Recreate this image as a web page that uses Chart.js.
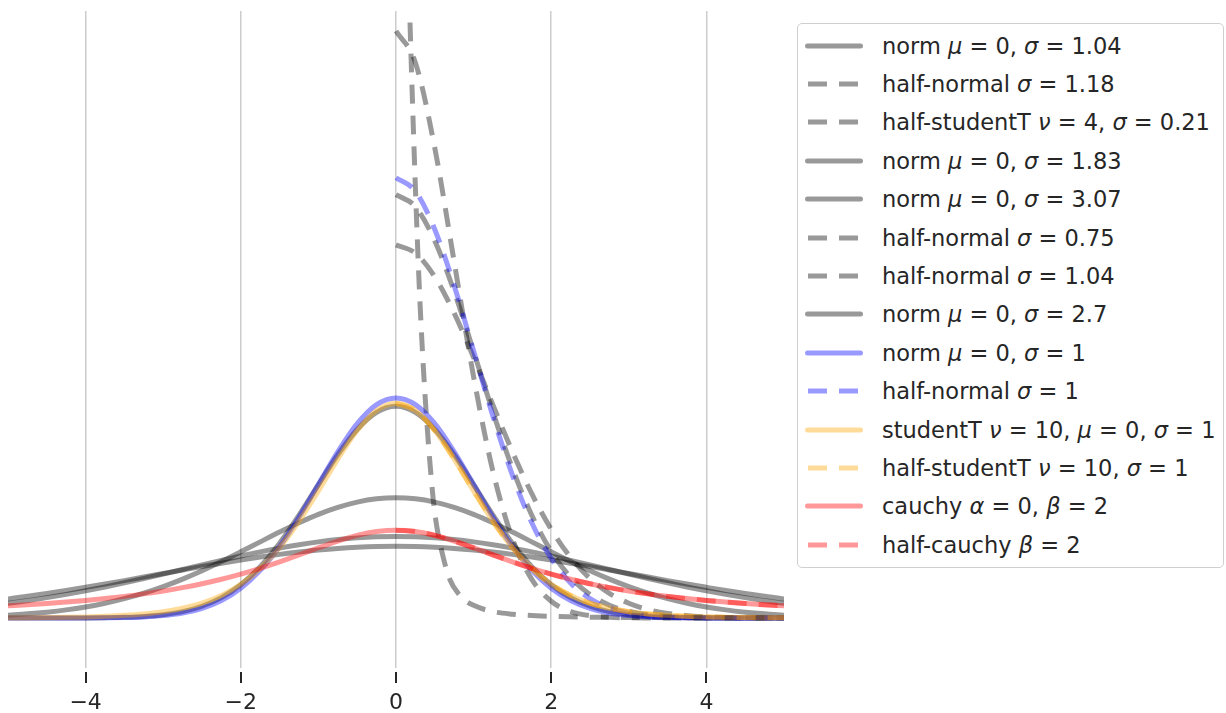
<!DOCTYPE html>
<html>
<head>
<meta charset="utf-8">
<script src="https://cdn.jsdelivr.net/npm/chart.js@4/dist/chart.umd.min.js"></script>
<style>
    html, body { margin: 0; padding: 0; background: #fff; }
    #wrap { position: relative; width: 1226px; height: 713px; }
    #legend {
        position: absolute; left: 797px; top: 23px; width: 427px; height: 545px;
        box-sizing: border-box; border: 1px solid #cfcfcf; border-radius: 5px; background: #fff;
        font-family: 'DejaVu Sans', sans-serif; font-size: 22.5px; color: #262626;
    }
    .row { position: absolute; left: 0; height: 30px; line-height: 30px; white-space: nowrap; }
    .row svg { position: absolute; left: 7px; top: 10px; }
    .row span { position: absolute; left: 84px; top: 0; }
    .row i { font-family: 'DejaVu Sans', sans-serif; font-style: italic; }
</style>
</head>
<body>
<div id="wrap">
    <canvas id="pdfChart" width="1226" height="713"></canvas>
    <div id="legend"></div>
</div>
<script>
const xs = [-5, -4.75, -4.5, -4.25, -4, -3.75, -3.5, -3.25, -3, -2.75, -2.5, -2.25, -2, -1.75, -1.5, -1.25, -1, -0.75, -0.5, -0.25,
    0, 0.25, 0.5, 0.75, 1, 1.25, 1.5, 1.75, 2, 2.25, 2.5, 2.75, 3, 3.25, 3.5, 3.75, 4, 4.25, 4.5, 4.75, 5]
const halfXs = [0, 0.25, 0.5, 0.75, 1, 1.25, 1.5, 1.75, 2, 2.25, 2.5, 2.75, 3, 3.25, 3.5, 3.75, 4, 4.25, 4.5, 4.75, 5]
const tXs = [0, 0.05, 0.1, 0.15, 0.2, 0.25, 0.3, 0.35, 0.4, 0.45, 0.5, 0.6, 0.7, 0.8, 0.9, 1, 1.2, 1.5, 2, 3, 4, 5]
const tickValues = [-4, -2, 0, 2, 4]

const normSd104 = [0, 0, 0, 0.0001, 0.0002, 0.0006, 0.0013, 0.0029, 0.006, 0.0116, 0.0213, 0.0369, 0.0604, 0.0931, 0.1356, 0.1863, 0.2416, 0.2958, 0.3417, 0.3727,
    0.3836, 0.3727, 0.3417, 0.2958, 0.2416, 0.1863, 0.1356, 0.0931, 0.0604, 0.0369, 0.0213, 0.0116, 0.006, 0.0029, 0.0013, 0.0006, 0.0002, 0.0001, 0, 0, 0]
const halfNormSd118 = [0.6762, 0.6612, 0.6181, 0.5525, 0.4722, 0.3858, 0.3014, 0.2252, 0.1608, 0.1098, 0.0717, 0.0447, 0.0267, 0.0152, 0.0083, 0.0043, 0.0022, 0.001, 0.0005, 0.0002, 0.0001]
const halfStudentT4 = [1.64, 1.6, 1.43, 1.22, 0.99, 0.78, 0.6, 0.46, 0.35, 0.26, 0.19, 0.115, 0.068, 0.045, 0.031, 0.023, 0.013, 0.007, 0.003, 0.001, 0.0004, 0.0002]
const normSd183 = [0.0052, 0.0075, 0.0106, 0.0147, 0.02, 0.0267, 0.035, 0.045, 0.0569, 0.0705, 0.0857, 0.1024, 0.12, 0.138, 0.1558, 0.1726, 0.1878, 0.2004, 0.21, 0.216,
    0.218, 0.216, 0.21, 0.2004, 0.1878, 0.1726, 0.1558, 0.138, 0.12, 0.1024, 0.0857, 0.0705, 0.0569, 0.045, 0.035, 0.0267, 0.02, 0.0147, 0.0106, 0.0075, 0.0052]
const normSd307 = [0.0345, 0.0393, 0.0444, 0.0498, 0.0556, 0.0616, 0.0678, 0.0742, 0.0806, 0.087, 0.0933, 0.0993, 0.1051, 0.1105, 0.1153, 0.1196, 0.1232, 0.1261, 0.1282, 0.1295,
    0.13, 0.1295, 0.1282, 0.1261, 0.1232, 0.1196, 0.1153, 0.1105, 0.1051, 0.0993, 0.0933, 0.087, 0.0806, 0.0742, 0.0678, 0.0616, 0.0556, 0.0498, 0.0444, 0.0393, 0.0345]
const halfNormSd075 = [1.0638, 1.0063, 0.8518, 0.6452, 0.4373, 0.2653, 0.144, 0.0699, 0.0304, 0.0118, 0.0041, 0.0013, 0.0004, 0.0001, 0, 0, 0, 0, 0, 0, 0]
const halfNormSd104 = [0.7672, 0.7454, 0.6834, 0.5916, 0.4832, 0.3726, 0.2712, 0.1862, 0.1208, 0.0738, 0.0426, 0.0232, 0.012, 0.0058, 0.0027, 0.0012, 0.0005, 0.0002, 0.0001, 0, 0]
const normSd27 = [0.0266, 0.0314, 0.0369, 0.0428, 0.0493, 0.0563, 0.0638, 0.0716, 0.0797, 0.088, 0.0963, 0.1044, 0.1123, 0.1198, 0.1266, 0.1327, 0.138, 0.1422, 0.1452, 0.1471,
    0.1478, 0.1471, 0.1452, 0.1422, 0.138, 0.1327, 0.1266, 0.1198, 0.1123, 0.1044, 0.0963, 0.088, 0.0797, 0.0716, 0.0638, 0.0563, 0.0493, 0.0428, 0.0369, 0.0314, 0.0266]
const normSd1 = [0, 0, 0, 0, 0.0001, 0.0004, 0.0009, 0.002, 0.0044, 0.0091, 0.0175, 0.0317, 0.054, 0.0863, 0.1295, 0.1826, 0.242, 0.3011, 0.3521, 0.3867,
    0.3989, 0.3867, 0.3521, 0.3011, 0.242, 0.1826, 0.1295, 0.0863, 0.054, 0.0317, 0.0175, 0.0091, 0.0044, 0.002, 0.0009, 0.0004, 0.0001, 0, 0, 0, 0]
const halfNormSd1 = [0.7979, 0.7734, 0.7041, 0.6022, 0.4839, 0.3653, 0.259, 0.1726, 0.108, 0.0635, 0.035, 0.0182, 0.0089, 0.0041, 0.0017, 0.0007, 0.0003, 0.0001, 0, 0, 0]
const studentT10 = [0.0004, 0.0006, 0.0009, 0.0013, 0.002, 0.0031, 0.0048, 0.0074, 0.0114, 0.0176, 0.0269, 0.0409, 0.0611, 0.0895, 0.1274, 0.1751, 0.2304, 0.288, 0.3397, 0.376,
    0.3891, 0.376, 0.3397, 0.288, 0.2304, 0.1751, 0.1274, 0.0895, 0.0611, 0.0409, 0.0269, 0.0176, 0.0114, 0.0074, 0.0048, 0.0031, 0.002, 0.0013, 0.0009, 0.0006, 0.0004]
const halfStudentT10 = [0.3891, 0.376, 0.3397, 0.288, 0.2304, 0.1751, 0.1274, 0.0895, 0.0611, 0.0409, 0.0269, 0.0176, 0.0114, 0.0074, 0.0048, 0.0031, 0.002, 0.0013, 0.0009, 0.0006, 0.0004]
const cauchy2 = [0.022, 0.024, 0.0263, 0.0289, 0.0318, 0.0352, 0.0392, 0.0437, 0.049, 0.0551, 0.0621, 0.0702, 0.0796, 0.0901, 0.1019, 0.1144, 0.1273, 0.1395, 0.1498, 0.1567,
    0.1592, 0.1567, 0.1498, 0.1395, 0.1273, 0.1144, 0.1019, 0.0901, 0.0796, 0.0702, 0.0621, 0.0551, 0.049, 0.0437, 0.0392, 0.0352, 0.0318, 0.0289, 0.0263, 0.024, 0.022]
const halfCauchy2 = [0.1592, 0.1567, 0.1498, 0.1395, 0.1273, 0.1144, 0.1019, 0.0901, 0.0796, 0.0702, 0.0621, 0.0551, 0.049, 0.0437, 0.0392, 0.0352, 0.0318, 0.0289, 0.0263, 0.024, 0.022]

const gray = 'rgba(0, 0, 0, 0.4)'
const blue = 'rgba(0, 0, 255, 0.4)'
const orange = 'rgba(255, 165, 0, 0.4)'
const red = 'rgba(255, 0, 0, 0.4)'
const dash = [19, 12]

// label, x values, y values, colour, dashed?
const series = [
    ['norm μ = 0, σ = 1.04', xs, normSd104, gray, false],
    ['half-normal σ = 1.18', halfXs, halfNormSd118, gray, true],
    ['half-studentT ν = 4, σ = 0.21', tXs, halfStudentT4, gray, true],
    ['norm μ = 0, σ = 1.83', xs, normSd183, gray, false],
    ['norm μ = 0, σ = 3.07', xs, normSd307, gray, false],
    ['half-normal σ = 0.75', halfXs, halfNormSd075, gray, true],
    ['half-normal σ = 1.04', halfXs, halfNormSd104, gray, true],
    ['norm μ = 0, σ = 2.7', xs, normSd27, gray, false],
    ['norm μ = 0, σ = 1', xs, normSd1, blue, false],
    ['half-normal σ = 1', halfXs, halfNormSd1, blue, true],
    ['studentT ν = 10, μ = 0, σ = 1', xs, studentT10, orange, false],
    ['half-studentT ν = 10, σ = 1', halfXs, halfStudentT10, orange, true],
    ['cauchy α = 0, β = 2', xs, cauchy2, red, false],
    ['half-cauchy β = 2', halfXs, halfCauchy2, red, true],
]

const datasets = series.map(([label, x, y, color, dashed], i) => ({
    label,
    data: x.map((v, j) => ({x: v, y: y[j]})),
    borderColor: color,
    borderWidth: 5,
    borderDash: dashed ? dash : [],
    borderCapStyle: dashed ? 'butt' : 'round',
    cubicInterpolationMode: 'monotone',
    pointRadius: 0,
    fill: false,
    order: series.length - i,
}))

// matplotlib style tick marks, a little below the plot area
const tickMarks = {
    id: 'tickMarks',
    afterDraw(chart) {
        const {ctx, chartArea, scales: {x}} = chart
        ctx.save()
        ctx.strokeStyle = '#262626'
        ctx.lineWidth = 2
        for (const t of x.ticks) {
            const px = Math.round(x.getPixelForValue(t.value))
            ctx.beginPath()
            ctx.moveTo(px, chartArea.bottom + 4)
            ctx.lineTo(px, chartArea.bottom + 15)
            ctx.stroke()
        }
        ctx.restore()
    }
}

const chart = new Chart(document.getElementById('pdfChart'), {
    type: 'line',
    data: {datasets},
    options: {
        responsive: false,
        animation: false,
        layout: {padding: {left: 8, right: 442, top: 11, bottom: 0}},
        plugins: {legend: {display: false}, tooltip: {enabled: false}},
        scales: {
            x: {
                type: 'linear',
                min: -5,
                max: 5,
                afterBuildTicks: scale => { scale.ticks = tickValues.map(value => ({value})) },
                afterFit: scale => { scale.height = 45 },
                grid: {color: '#cccccc', lineWidth: 1.5, drawTicks: false},
                border: {display: false},
                ticks: {
                    padding: 22,
                    color: '#262626',
                    font: {family: 'DejaVu Sans', size: 22},
                    callback: v => String(v).replace('-', '\u2212'),
                },
            },
            y: {
                type: 'linear',
                display: false,
                min: -0.0906,
                max: 1.1,
            },
        },
    },
    plugins: [tickMarks],
})

// html legend so the greek letters can be italic like mathtext
const legend = document.getElementById('legend')
chart.data.datasets.forEach((ds, i) => {
    const row = document.createElement('div')
    row.className = 'row'
    row.style.top = (22.5 + i * 38.4 - 15 - 1) + 'px'
    const dashed = ds.borderDash.length > 0
    const x1 = dashed ? 3 : 2.5
    const x2 = dashed ? 56 : 55.5
    row.innerHTML =
        `<svg width="60" height="10"><line x1="${x1}" y1="5" x2="${x2}" y2="5" stroke="${ds.borderColor}" stroke-width="5"` +
        ` stroke-linecap="${dashed ? 'butt' : 'round'}" stroke-dasharray="${dashed ? ds.borderDash.join(' ') : 'none'}"/></svg>` +
        `<span>${ds.label.replace(/([μσναβ])/g, '<i>$1</i>')}</span>`
    legend.appendChild(row)
})
</script>
</body>
</html>
